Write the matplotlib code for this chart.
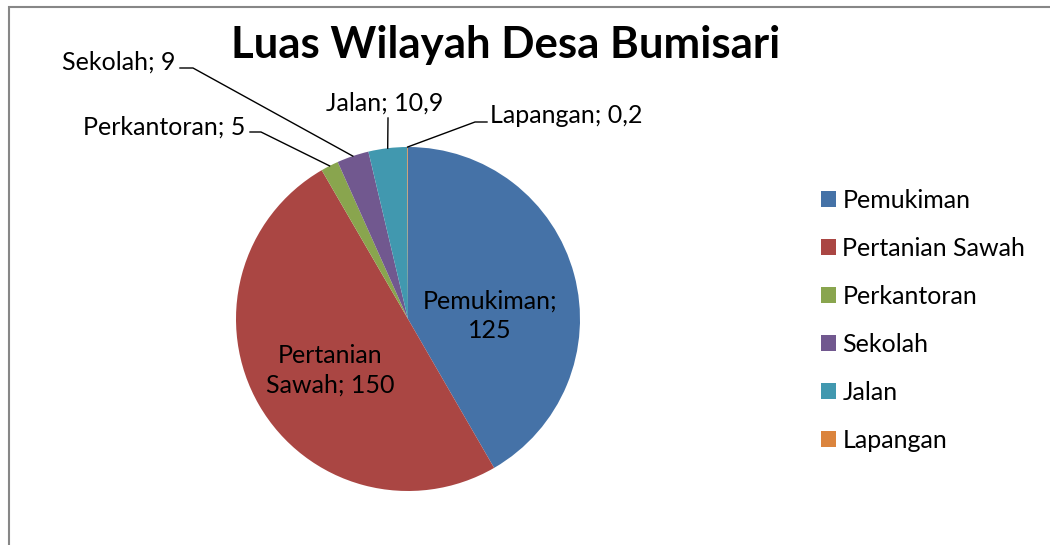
import matplotlib
matplotlib.use("Agg")
import matplotlib.pyplot as plt
import numpy as np
from matplotlib.patches import Rectangle
from matplotlib.lines import Line2D

categories = ["Pemukiman", "Pertanian Sawah", "Perkantoran", "Sekolah", "Jalan", "Lapangan"]
values = [125, 150, 5, 9, 10.9, 0.2]
colors = ["#4572A7", "#AA4643", "#89A54E", "#71588F", "#4198AF", "#DB843D"]

W, H = 1050, 545
plt.rcParams['font.family'] = ['Lato', 'DejaVu Sans']


def px(x, y):
    # pixel coords (top-left origin) -> figure fraction
    return x / W, 1 - y / H


def fmt(v):
    return str(v).replace('.', ',')


fig = plt.figure(figsize=(W / 100, H / 100), dpi=100)

# chart border
fig.patches.append(Rectangle(px(9, 560), 1.1, 553 / H, transform=fig.transFigure,
                             fill=False, edgecolor="#878787", linewidth=1.5))

cx, cy, r = 408, 319, 172
ax = fig.add_axes([(cx - r) / W, (H - cy - r) / H, 2 * r / W, 2 * r / H])
wedges, _ = ax.pie(values, colors=colors, startangle=90, counterclock=False,
                   radius=1, wedgeprops=dict(linewidth=0))
ax.set_xlim(-1, 1)
ax.set_ylim(-1, 1)

fig.text(*px(506, 45), "Luas Wilayah Desa Bumisari", fontsize=31.5, weight='bold',
         ha='center', va='center')

lab_fs = 18

# labels inside the pie
fig.text(*px(490, 316), f"{categories[0]};\n{fmt(values[0])}", fontsize=lab_fs,
         ha='center', va='center', linespacing=1.35)
fig.text(*px(330, 370), f"Pertanian\nSawah; {fmt(values[1])}", fontsize=lab_fs,
         ha='center', va='center', linespacing=1.35)

# labels outside with leader lines
outside = {
    "Perkantoran": dict(pos=(245, 127), ha='right', pts=[(250, 132), (261, 132)]),
    "Sekolah": dict(pos=(175, 62), ha='right', pts=[(180, 68), (193, 68)]),
    "Jalan": dict(pos=(385, 103), ha='center', pts=[(388, 118)]),
    "Lapangan": dict(pos=(490, 115), ha='left', pts=[(487, 122), (475, 122)]),
}
inv = fig.transFigure.inverted()
for w, cat, v in zip(wedges, categories, values):
    if cat not in outside:
        continue
    o = outside[cat]
    fig.text(*px(*o['pos']), f"{cat}; {fmt(v)}", fontsize=lab_fs, ha=o['ha'], va='center')
    th = np.deg2rad((w.theta1 + w.theta2) / 2)
    edge = inv.transform(ax.transData.transform((np.cos(th), np.sin(th))))
    xs = [px(*p)[0] for p in o['pts']] + [edge[0]]
    ys = [px(*p)[1] for p in o['pts']] + [edge[1]]
    fig.add_artist(Line2D(xs, ys, transform=fig.transFigure, color='black', linewidth=1))

fig.legend(wedges, categories, loc='upper left', bbox_to_anchor=px(821, 189),
           frameon=False, fontsize=lab_fs, handlelength=0.58, handleheight=0.58,
           handletextpad=0.28, labelspacing=1.0, borderaxespad=0, borderpad=0)

fig.savefig("out.png", dpi=100)
